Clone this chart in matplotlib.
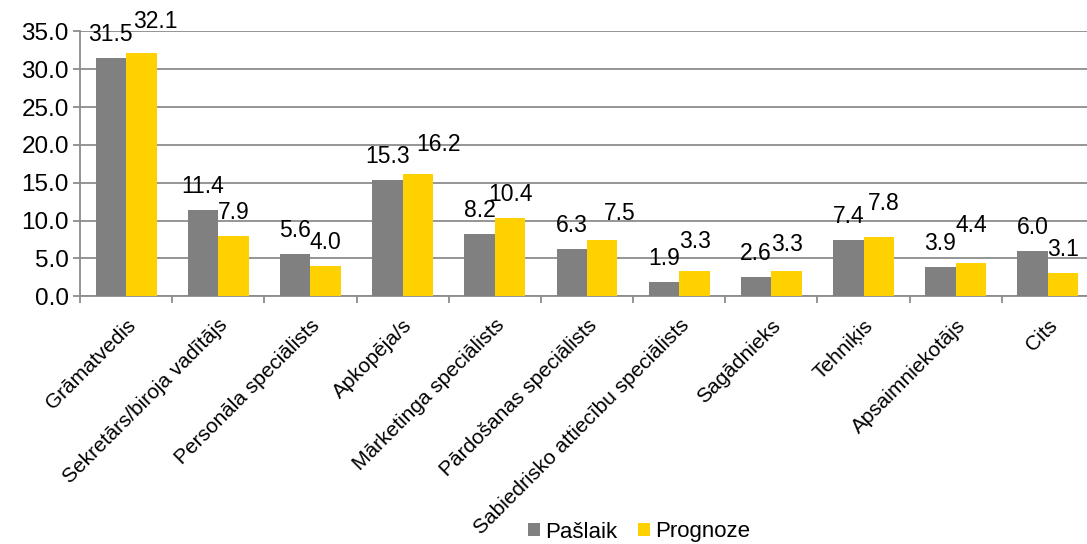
import numpy as np
import matplotlib.pyplot as plt
import matplotlib.transforms as mtransforms

plt.rcParams['font.family'] = ['Liberation Sans', 'DejaVu Sans']

categories = ["Grāmatvedis", "Sekretārs/biroja vadītājs", "Personāla speciālists",
              "Apkopēja/s", "Mārketinga speciālists", "Pārdošanas speciālists",
              "Sabiedrisko attiecību speciālists", "Sagādnieks", "Tehniķis",
              "Apsaimniekotājs", "Cits"]
paslaik = [31.5, 11.4, 5.6, 15.3, 8.2, 6.3, 1.9, 2.6, 7.4, 3.9, 6.0]
prognoze = [32.1, 7.9, 4.0, 16.2, 10.4, 7.5, 3.3, 3.3, 7.8, 4.4, 3.1]
yticks = [0, 5, 10, 15, 20, 25, 30, 35]

GRAY = "#808080"
GOLD = "#FFD100"
GRID = "#8c8c8c"

# extra pixel nudges for Prognoze labels that would collide with the Pašlaik ones
nudge = {0: (14, 8), 3: (21, 6), 5: (18, 3), 6: (1, 6), 7: (0, 3), 8: (5, 10), 9: (0, 14)}

fig = plt.figure(figsize=(10.87, 5.44), dpi=100)
ax = fig.add_axes([80 / 1087, 1 - 296.3 / 544, 1014 / 1087, 265 / 544])

x = np.arange(len(categories))
w = 0.33
b1 = ax.bar(x - w / 2, paslaik, w, color=GRAY, label="Pašlaik", zorder=3)
b2 = ax.bar(x + w / 2, prognoze, w, color=GOLD, label="Prognoze", zorder=3)

for rect, v in zip(b1, paslaik):
    ax.annotate(f"{v:.1f}", (rect.get_x() + rect.get_width() / 2, v),
                xytext=(0, 17), textcoords="offset pixels",
                ha="center", va="baseline", fontsize=16.5)
for i, (rect, v) in enumerate(zip(b2, prognoze)):
    dx, dy = nudge.get(i, (0, 0))
    ax.annotate(f"{v:.1f}", (rect.get_x() + rect.get_width() / 2, v),
                xytext=(dx, 17 + dy), textcoords="offset pixels",
                ha="center", va="baseline", fontsize=16.5)

ax.set_ylim(0, 35)
ax.set_yticks(yticks)
ax.set_yticklabels([f"{t:.1f}" for t in yticks], fontsize=17.5)
ax.set_xlim(-0.5, len(categories) - 0.5)
ax.set_xticks(x)
ax.set_xticklabels(categories, rotation=45, ha="right", va="top",
                   rotation_mode="anchor", fontsize=15)
# pull the slanted labels a little to the left so they end under the category
shift = mtransforms.ScaledTranslation(-7 / 100, 0, fig.dpi_scale_trans)
for lbl in ax.get_xticklabels():
    lbl.set_transform(lbl.get_transform() + shift)
ax.set_xticks(np.arange(len(categories) + 1) - 0.5, minor=True)
ax.tick_params(axis="x", which="major", length=0, pad=14)
ax.tick_params(axis="x", which="minor", length=5, color=GRID, width=1.3)
ax.tick_params(axis="y", length=5, color=GRID, width=1.3, pad=3)

ax.yaxis.grid(True, color=GRID, linewidth=1.3, zorder=0)
ax.set_axisbelow(True)
for s in ["top", "right"]:
    ax.spines[s].set_visible(False)
for s in ["left", "bottom"]:
    ax.spines[s].set_color(GRID)
    ax.spines[s].set_linewidth(1.3)

fig.legend(handles=[b1, b2], loc="center", bbox_to_anchor=(639 / 1087, 1 - 532 / 544),
           ncol=2, frameon=False, fontsize=16, handlelength=0.55, handleheight=0.55,
           handletextpad=0.25, columnspacing=0.9, borderpad=0, borderaxespad=0)

fig.savefig("out.png", dpi=100)
